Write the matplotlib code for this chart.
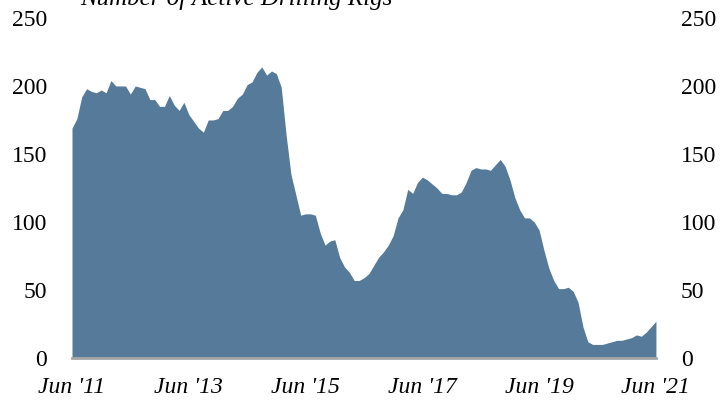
# Active drilling rig count, monthly, Jun 2011 - Jun 2021
import matplotlib.pyplot as plt
import numpy as np

rigs = [169, 176, 192, 198, 196, 195, 197, 195, 204, 200,
        200, 200, 194, 200, 199, 198, 190, 190, 185, 185,
        193, 186, 182, 188, 179, 174, 169, 166, 175, 175,
        176, 182, 182, 185, 191, 194, 201, 203, 210, 214,
        208, 211, 209, 199, 164, 135, 120, 105, 106, 106,
        105, 92, 83, 86, 87, 74, 67, 63, 57, 57,
        59, 62, 68, 74, 78, 83, 90, 103, 109, 124,
        121, 129, 133, 131, 128, 125, 121, 121, 120, 120,
        122, 129, 138, 140, 139, 139, 138, 142, 146, 141,
        131, 118, 109, 103, 103, 100, 94, 79, 66, 57,
        51, 51, 52, 49, 41, 23, 12, 10, 10, 10,
        11, 12, 13, 13, 14, 15, 17, 16, 19, 23,
        27]
tick_months = [0, 24, 48, 72, 96, 120]
tick_labels = ["Jun '11", "Jun '13", "Jun '15", "Jun '17", "Jun '19", "Jun '21"]
y_ticks = [0, 50, 100, 150, 200, 250]

months = np.arange(len(rigs))

fig = plt.figure(figsize=(7.2, 4.08), dpi=100)
ax = fig.add_axes([0.1, 0.1225, 0.811, 0.8335])

ax.fill_between(months, rigs, 0, color='#557a9a', linewidth=0)

ax.set_xlim(0, 120)
ax.set_ylim(0, 250)
ax.set_xticks(tick_months)
ax.set_xticklabels(tick_labels, family='Liberation Serif', style='italic', fontsize=17)
ax.set_yticks(y_ticks)
ax.set_yticklabels([str(v) for v in y_ticks], family='Liberation Serif', fontsize=17)
ax.tick_params(axis='x', length=0, pad=14)
ax.tick_params(axis='y', length=0, pad=18, labelright=True)

for side in ['top', 'left', 'right']:
    ax.spines[side].set_visible(False)
ax.spines['bottom'].set_color('#a6a6a6')
ax.spines['bottom'].set_linewidth(2)

# title sits partly above the top edge
fig.text(80 / 720, 1 - 5 / 408, 'Number of Active Drilling Rigs', family='Liberation Serif',
         style='italic', fontsize=18, va='baseline', ha='left')

fig.savefig('out.png', dpi=100)
